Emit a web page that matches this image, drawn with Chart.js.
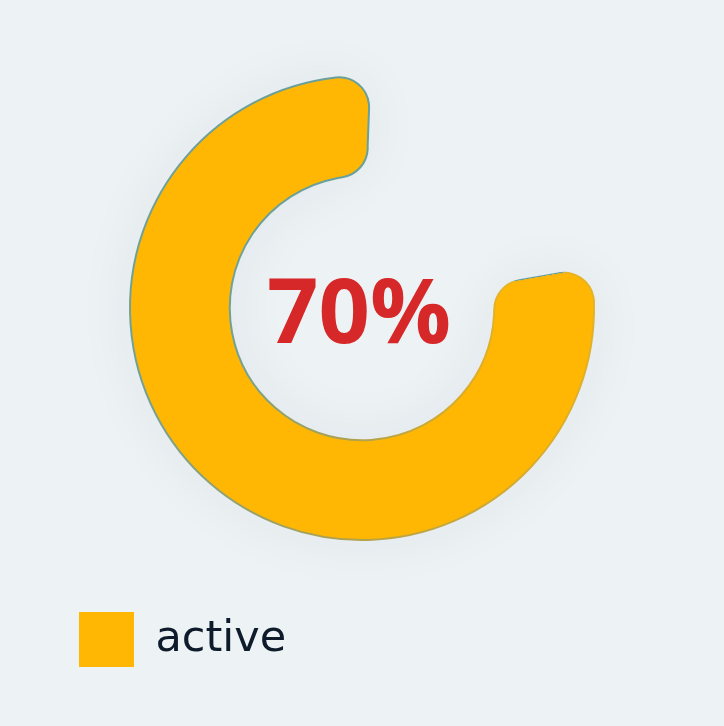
<!DOCTYPE html>
<html>
<head>
<meta charset="utf-8">
<script src="https://cdn.jsdelivr.net/npm/chart.js@4/dist/chart.umd.min.js"></script>
<style>
  html, body { margin: 0; padding: 0; background: #edf2f4; }
  #wrap { width: 724px; height: 726px; position: relative; }
</style>
</head>
<body>
<div id="wrap"><canvas id="c" width="724" height="726"></canvas></div>
<script>
// ---- data ----
const categories = ['active'];
const seriesValues = [70];
const centerLabels = ['70%'];
const seriesColors = ['#ffb703'];

// ---- plugins ----
const shadowPlugin = {
  id: 'arcShadow',
  beforeDatasetsDraw(chart) {
    const ctx = chart.ctx;
    ctx.save();
    ctx.shadowColor = 'rgba(30,60,90,0.06)';
    ctx.shadowBlur = 60;
    ctx.shadowOffsetX = 0;
    ctx.shadowOffsetY = 0;
  },
  afterDatasetsDraw(chart) {
    chart.ctx.restore();
  }
};

const centerTextPlugin = {
  id: 'centerText',
  afterDraw(chart) {
    const meta = chart.getDatasetMeta(0);
    if (!meta.data.length) return;
    const arc = meta.data[0];
    const ctx = chart.ctx;
    ctx.save();
    ctx.font = 'bold 90px "Open Sans", "Noto Sans", sans-serif';
    ctx.fillStyle = '#d62828';
    ctx.textAlign = 'center';
    ctx.textBaseline = 'alphabetic';
    ctx.fillText(centerLabels[0], arc.x - 3, arc.y + 35);
    ctx.restore();
  }
};

function borderGradient(context) {
  const chart = context.chart;
  const ctx = chart.ctx;
  const a = chart.chartArea;
  if (!a || !Number.isFinite(a.left) || !Number.isFinite(a.top)) return '#6aa09c';
  const cx = (a.left + a.right) / 2;
  const cy = (a.top + a.bottom) / 2;
  const start = (chart.options.rotation - 90) * Math.PI / 180;
  if (typeof ctx.createConicGradient === 'function') {
    const g = ctx.createConicGradient(start, cx, cy);
    const span = chart.options.circumference / 360;
    g.addColorStop(0, '#e6b324');
    g.addColorStop(0.2 * span, '#d6ac2f');
    g.addColorStop(0.38 * span, '#aca152');
    g.addColorStop(0.6 * span, '#74a294');
    g.addColorStop(span, '#68a09c');
    g.addColorStop(1, '#68a09c');
    return g;
  }
  const g = ctx.createLinearGradient(a.right, a.bottom, a.left, a.top);
  g.addColorStop(0, '#e6b324');
  g.addColorStop(1, '#68a09c');
  return g;
}

new Chart(document.getElementById('c'), {
  type: 'doughnut',
  data: {
    labels: categories,
    datasets: [{
      data: seriesValues,
      backgroundColor: seriesColors,
      borderColor: borderGradient,
      borderWidth: 2,
      borderRadius: 30
    }]
  },
  options: {
    responsive: false,
    animation: false,
    rotation: 80,
    circumference: 282,
    radius: 232,
    cutout: '57%',
    layout: { padding: { top: 14, left: 69, right: 69, bottom: 49 } },
    plugins: {
      tooltip: { enabled: false },
      legend: {
        position: 'bottom',
        align: 'start',
        labels: {
          boxWidth: 55,
          boxHeight: 55,
          padding: 10,
          color: '#0d1b2a',
          font: { family: '"DejaVu Sans", sans-serif', size: 43, weight: 'normal' },
          generateLabels(chart) {
            const items = Chart.overrides.doughnut.plugins.legend.labels.generateLabels(chart);
            return items.map((it, i) => Object.assign(it, {
              fillStyle: seriesColors[i],
              strokeStyle: seriesColors[i],
              lineWidth: 0
            }));
          }
        }
      }
    }
  },
  plugins: [shadowPlugin, centerTextPlugin]
});
</script>
</body>
</html>
